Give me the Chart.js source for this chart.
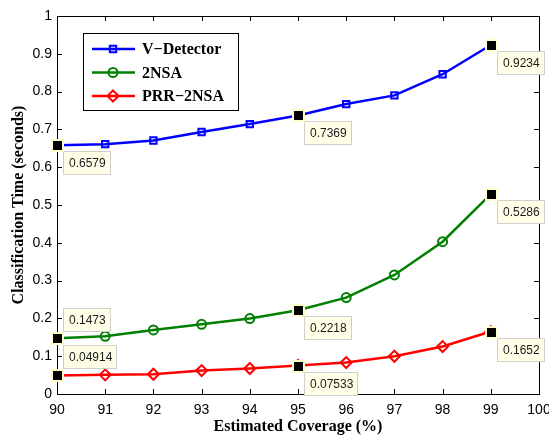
<!DOCTYPE html>
<html>
<head>
<meta charset="utf-8">
<script src="https://cdn.jsdelivr.net/npm/chart.js@4.4.0/dist/chart.umd.min.js"></script>
<style>
  html, body { margin: 0; padding: 0; background: #fff; }
  #wrap { width: 549px; height: 436px; position: relative; }
</style>
</head>
<body>
<div id="wrap"><canvas id="chartCanvas"></canvas></div>
<script>
// Estimated coverage (%) on the x axis
const coverage = [90, 91, 92, 93, 94, 95, 96, 97, 98, 99];

// Classification time (seconds) per method
const vDetector = [0.6579, 0.661, 0.6705, 0.693, 0.714, 0.7369, 0.767, 0.790, 0.846, 0.9234];
const twoNSA    = [0.1473, 0.1527, 0.1696, 0.1844, 0.1995, 0.2218, 0.255, 0.315, 0.403, 0.5286];
const prr2NSA   = [0.04914, 0.0507, 0.0523, 0.062, 0.0674, 0.07533, 0.0832, 0.0999, 0.1255, 0.1652];

const seriesNames = ["V\u2212Detector", "2NSA", "PRR\u22122NSA"];

// Axis ticks
const xTicks = [90, 91, 92, 93, 94, 95, 96, 97, 98, 99, 100];
const yTicks = [0, 0.1, 0.2, 0.3, 0.4, 0.5, 0.6, 0.7, 0.8, 0.9, 1];

// Data tips: which point of which series gets a value box
const tipSeries = [0, 0, 0, 1, 1, 1, 2, 2, 2];
const tipIndex  = [0, 5, 9, 0, 5, 9, 0, 5, 9];
const tipAbove  = [false, false, false, true, false, false, true, false, false];

const toXY = arr => arr.map((v, i) => ({ x: coverage[i], y: v }));

/* ----------------------------------------
   Inward ticks on all four sides + box
---------------------------------------- */
const frameTicks = {
    id: "frameTicks",
    afterDraw(chart) {
        const { ctx, chartArea: a, scales } = chart;
        ctx.save();
        ctx.strokeStyle = "#000";
        ctx.lineWidth = 1;
        const len = 5;
        ctx.beginPath();
        xTicks.forEach(t => {
            const x = Math.round(scales.x.getPixelForValue(t)) + 0.5;
            ctx.moveTo(x, a.bottom); ctx.lineTo(x, a.bottom - len);
            ctx.moveTo(x, a.top); ctx.lineTo(x, a.top + len);
        });
        yTicks.forEach(t => {
            const y = Math.round(scales.y.getPixelForValue(t)) + 0.5;
            ctx.moveTo(a.left, y); ctx.lineTo(a.left + len, y);
            ctx.moveTo(a.right, y); ctx.lineTo(a.right - len, y);
        });
        ctx.stroke();
        ctx.strokeRect(Math.round(a.left) + 0.5, Math.round(a.top) + 0.5,
                       Math.round(a.right - a.left), Math.round(a.bottom - a.top));
        ctx.restore();
    }
};

/* ----------------------------------------
   Value boxes (datatip style)
---------------------------------------- */
const dataTips = {
    id: "dataTips",
    afterDraw(chart) {
        const { ctx } = chart;
        ctx.save();
        ctx.font = "12px 'Liberation Sans', Arial, sans-serif";
        ctx.textBaseline = "middle";
        tipSeries.forEach((s, k) => {
            const pt = chart.getDatasetMeta(s).data[tipIndex[k]];
            const value = chart.data.datasets[s].data[tipIndex[k]].y;
            const label = String(Number(value.toPrecision(4)));
            const w = Math.round(ctx.measureText(label).width + 11);
            const h = 24;
            const bx = Math.round(pt.x + 6);
            const by = tipAbove[k] ? Math.round(pt.y - 6 - h) : Math.round(pt.y + 6);
            ctx.fillStyle = "#ffffe8";
            ctx.fillRect(bx, by, w, h);
            ctx.strokeStyle = "#cfcfcf";
            ctx.lineWidth = 1;
            ctx.strokeRect(bx + 0.5, by + 0.5, w - 1, h - 1);
            ctx.fillStyle = "#1a1a1a";
            ctx.fillText(label, bx + 6, by + h / 2 + 1);

            // marker on the picked point
            ctx.fillStyle = "#ffffcc";
            ctx.fillRect(Math.round(pt.x) - 6, Math.round(pt.y) - 6, 13, 13);
            ctx.fillStyle = "#000";
            ctx.fillRect(Math.round(pt.x) - 4, Math.round(pt.y) - 4, 9, 9);
        });
        ctx.restore();
    }
};

/* ----------------------------------------
   Boxed legend, upper left
---------------------------------------- */
const boxLegend = {
    id: "boxLegend",
    afterDraw(chart) {
        const { ctx } = chart;
        const x0 = 83, y0 = 33, w = 155, h = 77;
        ctx.save();
        ctx.fillStyle = "#fff";
        ctx.fillRect(x0, y0, w, h);
        ctx.strokeStyle = "#000";
        ctx.lineWidth = 1;
        ctx.strokeRect(x0 + 0.5, y0 + 0.5, w, h);
        ctx.font = "bold 16px 'Liberation Serif', 'Times New Roman', serif";
        ctx.textBaseline = "middle";
        chart.data.datasets.forEach((ds, i) => {
            const y = y0 + 16 + i * 23.5;
            ctx.strokeStyle = ds.borderColor;
            ctx.lineWidth = 2.5;
            ctx.beginPath();
            ctx.moveTo(x0 + 9, y); ctx.lineTo(x0 + 52, y);
            ctx.stroke();
            ctx.fillStyle = "rgba(0,0,0,0)";
            ctx.lineWidth = 2;
            Chart.helpers.drawPoint(ctx, {
                pointStyle: ds.pointStyle,
                radius: ds.pointRadius,
                borderWidth: 2
            }, x0 + 30, y);
            ctx.fillStyle = "#000";
            ctx.fillText(ds.label, x0 + 59, y + 1);
        });
        ctx.restore();
    }
};

function makeSeries(label, values, color, style, radius) {
    return {
        label: label,
        data: toXY(values),
        borderColor: color,
        backgroundColor: "rgba(0,0,0,0)",
        borderWidth: 2.5,
        tension: 0,
        pointStyle: style,
        pointRadius: radius,
        pointBorderWidth: 2,
        pointBorderColor: color,
        pointBackgroundColor: "rgba(0,0,0,0)"
    };
}

const tickFont = { family: "'Liberation Sans', Arial, sans-serif", size: 14 };
const titleFont = { family: "'Liberation Serif', 'Times New Roman', serif", size: 16, weight: "bold" };

new Chart(document.getElementById("chartCanvas"), {
    type: "line",
    data: {
        datasets: [
            makeSeries(seriesNames[0], vDetector, "#0000ff", "rect", 4.5),
            makeSeries(seriesNames[1], twoNSA, "#008000", "circle", 4.5),
            makeSeries(seriesNames[2], prr2NSA, "#ff0000", "rectRot", 5.5)
        ]
    },
    options: {
        responsive: true,
        maintainAspectRatio: false,
        animation: false,
        devicePixelRatio: 1,
        layout: { padding: { top: 16, right: 10, left: 0, bottom: 0 } },
        plugins: {
            legend: { display: false },
            tooltip: { enabled: false }
        },
        scales: {
            x: {
                type: "linear",
                min: 90,
                max: 100,
                afterBuildTicks: s => { s.ticks = xTicks.map(v => ({ value: v })); },
                grid: { display: false, drawTicks: false },
                border: { display: false },
                ticks: { color: "#000", font: tickFont, padding: 8, maxRotation: 0 },
                title: { display: true, text: "Estimated Coverage (%)", color: "#000", font: titleFont, padding: { top: 0, bottom: 0 } },
                afterFit: s => { s.height = 42; s.paddingLeft = 0; s.paddingRight = 0; }
            },
            y: {
                min: 0,
                max: 1,
                afterBuildTicks: s => { s.ticks = yTicks.map(v => ({ value: v })); },
                grid: { display: false, drawTicks: false },
                border: { display: false },
                ticks: {
                    color: "#000",
                    font: tickFont,
                    padding: 5,
                    callback: v => String(Number(v.toFixed(1)))
                },
                title: { display: true, text: "Classification Time (seconds)", color: "#000", font: titleFont, padding: { top: 9, bottom: 0 } },
                afterFit: s => { s.width = 57; s.paddingTop = 0; s.paddingBottom = 0; }
            }
        }
    },
    plugins: [frameTicks, boxLegend, dataTips]
});
</script>
</body>
</html>
